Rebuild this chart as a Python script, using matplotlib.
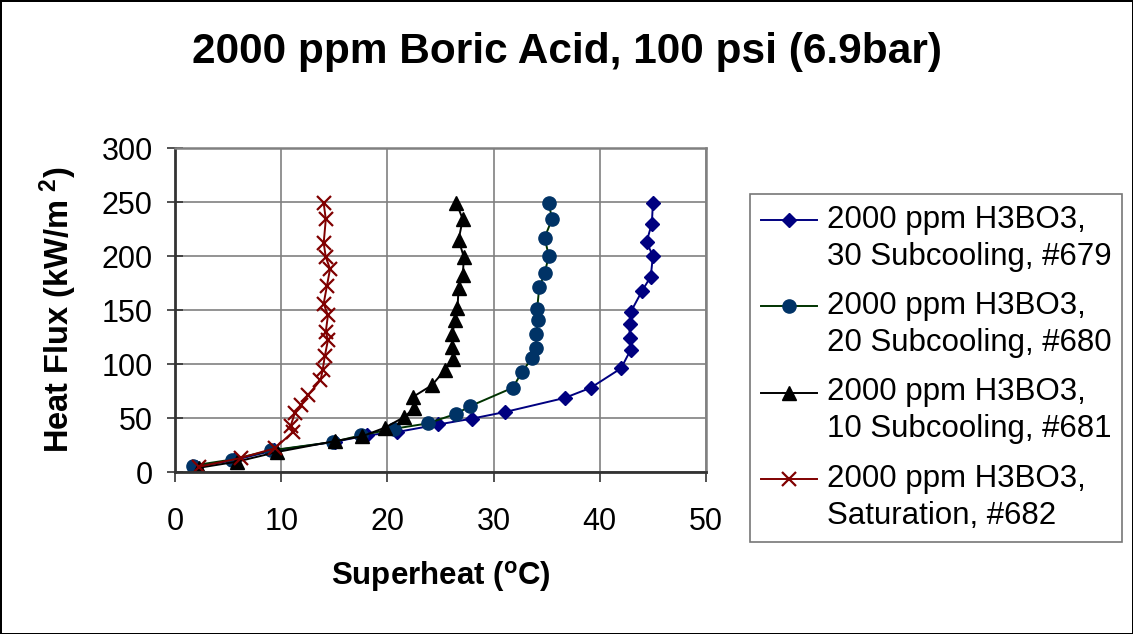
import matplotlib.pyplot as plt
from matplotlib.legend_handler import HandlerLine2D

# superheat (C) / heat flux (kW/m2)
x_679 = [2.0, 5.6, 9.3, 15.1, 18.1, 20.9, 24.8, 28.0, 31.1, 36.7, 39.15, 42.0, 42.9, 42.8, 42.8, 42.9, 44.0, 44.8, 45.0, 44.4, 44.9, 45.0]
q_679 = [5, 11, 20, 28, 34, 37, 44, 49.5, 55.6, 68.6, 78, 96, 113, 124, 137, 148, 168, 181, 200, 213, 230, 249]

x_680 = [1.7, 5.35, 9.0, 14.9, 17.5, 20.6, 23.8, 26.5, 27.8, 31.8, 32.7, 33.65, 34.0, 34.0, 34.2, 34.1, 34.3, 34.8, 35.2, 34.8, 35.5, 35.2]
q_680 = [6, 11.5, 20, 27.8, 34, 40, 45, 54, 61, 78, 93, 106, 115, 128, 141, 151, 171, 184, 200, 217, 234, 249]

x_681 = [2.3, 5.8, 9.6, 15.1, 17.6, 19.75, 21.6, 22.5, 22.4, 24.2, 25.4, 26.2, 26.1, 26.1, 26.4, 26.6, 26.7, 27.1, 27.2, 26.7, 27.1, 26.5]
q_681 = [4, 9.5, 18.5, 28.7, 33, 41, 51, 59, 69.5, 80.4, 94.3, 105, 116, 128, 140.6, 151.4, 170, 182, 199, 215, 234, 249]

x_682 = [2.3, 6.2, 9.4, 11.1, 10.9, 11.3, 11.9, 12.5, 13.7, 13.9, 14.1, 14.4, 14.2, 14.4, 14.0, 14.3, 14.6, 14.2, 14.0, 14.2, 14.0]
q_682 = [5, 13, 22, 37, 43, 55, 62, 71, 85, 94, 107, 122, 130, 145, 156, 172, 188, 199, 212, 234, 249]

labels = ['2000 ppm H3BO3,\n30 Subcooling, #679',
          '2000 ppm H3BO3,\n20 Subcooling, #680',
          '2000 ppm H3BO3,\n10 Subcooling, #681',
          '2000 ppm H3BO3,\nSaturation, #682']

plt.rcParams['font.family'] = ['Liberation Sans', 'DejaVu Sans']
plt.rcParams['mathtext.fontset'] = 'custom'
plt.rcParams['mathtext.rm'] = 'Liberation Sans'
plt.rcParams['mathtext.bf'] = 'Liberation Sans:bold'
plt.rcParams['mathtext.default'] = 'bf'

LINE_SHIFT = 13.5  # points, half a text line


class FirstLineHandler(HandlerLine2D):
    # put the legend handle on the first line of a two-line label
    def create_artists(self, legend, orig_handle, xdescent, ydescent,
                       width, height, fontsize, trans):
        return super().create_artists(legend, orig_handle, xdescent,
                                      ydescent - 2 * LINE_SHIFT, width, height,
                                      fontsize, trans)


fig = plt.figure(figsize=(11.33, 6.34), dpi=100, edgecolor='black', linewidth=2)
ax = fig.add_axes([175 / 1133, 1 - 472 / 634, 531 / 1133, 324 / 634])

l1, = ax.plot(x_679, q_679, color='#000080', lw=1.4, marker='D', ms=7.5,
              mfc='#000080', mec='#000080')
l2, = ax.plot(x_680, q_680, color='#003300', lw=1.4, marker='o', ms=9.5,
              mfc='#003366', mec='#003366')
l3, = ax.plot(x_681, q_681, color='black', lw=1.4, marker='^', ms=10,
              mfc='black', mec='black')
l4, = ax.plot(x_682, q_682, color='#800000', lw=1.4, marker='x', ms=10,
              mew=1.6, mec='#800000')

ax.set_xlim(0, 50)
ax.set_ylim(0, 300)
ax.set_xticks(range(0, 51, 10))
ax.set_yticks(range(0, 301, 50))
ax.grid(True, color='#808080', lw=1.2)
ax.set_axisbelow(True)

for s in ['top', 'right']:
    ax.spines[s].set_color('#808080')
    ax.spines[s].set_linewidth(1.8)
for s in ['left', 'bottom']:
    ax.spines[s].set_color('#333333')
    ax.spines[s].set_linewidth(2)

ax.tick_params(axis='y', direction='inout', length=12, width=1.2,
               labelsize=22, pad=10, color='#333333')
ax.tick_params(axis='x', direction='out', length=7, width=1.2,
               labelsize=22, pad=18, color='#333333')

ax.set_xlabel(r'Superheat ($^{o}$C)', fontsize=22.5, fontweight='bold', labelpad=16)
ax.set_ylabel(r'Heat Flux (kW/m$^{\ 2}$)', fontsize=23.5, fontweight='bold', labelpad=16)

fig.text(0.5, 1 - 52 / 634, '2000 ppm Boric Acid, 100 psi (6.9bar)',
         ha='center', va='center', fontsize=30.5, fontweight='bold')

leg = ax.legend([l1, l2, l3, l4], labels, loc='upper left',
                bbox_to_anchor=(750 / 1133, 1 - 194 / 634),
                bbox_transform=fig.transFigure, borderaxespad=0,
                fontsize=22.5, frameon=True, fancybox=False,
                handlelength=1.8, handletextpad=0.3, labelspacing=0.62,
                borderpad=0.35, numpoints=1,
                handler_map={plt.Line2D: FirstLineHandler()})
for t in leg.get_texts():
    t.set_linespacing(1.3)
leg.get_frame().set_edgecolor('#555555')
leg.get_frame().set_linewidth(1.2)

fig.savefig('out.png', dpi=100)
